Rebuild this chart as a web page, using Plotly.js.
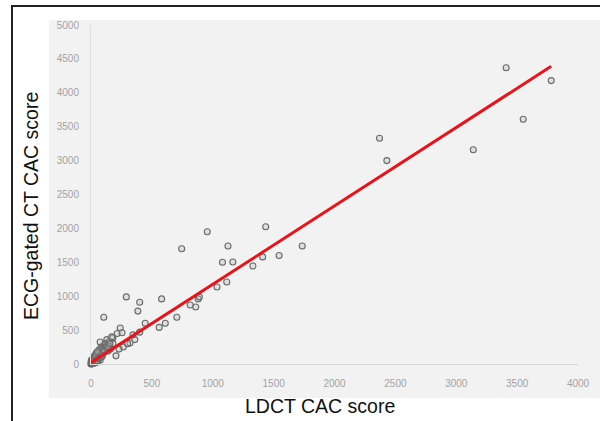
<!DOCTYPE html>
<html>
<head>
<meta charset="utf-8">
<script src="https://cdn.plot.ly/plotly-3.0.1.min.js"></script>
<style>
  html, body { margin: 0; padding: 0; background: #ffffff; }
  #wrap { position: relative; width: 600px; height: 421px; overflow: hidden; }
  #frame { position: absolute; left: 11px; top: 5px; width: 600px; height: 430px;
           border-top: 2px solid #222; border-left: 2px solid #222; }
  #panel { position: absolute; left: 49px; top: 20px; width: 551px; height: 378px; background: #f2f2f2; }
  #chart { position: absolute; left: 0; top: 0; width: 600px; height: 421px; }
</style>
</head>
<body>
<div id="wrap">
  <div id="frame"></div>
  <div id="panel"></div>
  <div id="chart"></div>
</div>
<script>
// LDCT CAC score (x) vs ECG-gated CT CAC score (y)
const ldct = [
  3410, 3780, 3550, 3140, 2370, 2430,
  1435, 955, 745, 1125, 1735, 1545, 1410, 1330, 1080, 1165, 1115, 1035, 880, 890, 815, 860,
  290, 400, 580, 385, 105, 445, 705, 610, 560, 240, 215, 255, 180, 130, 75, 400, 360, 320, 265, 205, 345, 300, 230,
  0, 2, 5, 8, 10, 12, 15, 18, 20, 22, 25, 28, 30, 33, 35, 38, 40, 42, 45, 48, 50, 52, 55, 58, 60,
  62, 65, 68, 70, 72, 75, 78, 80, 85, 88, 90, 95, 100, 105, 110, 115, 120, 130, 140, 150, 160, 170, 180,
  3, 6, 9, 14, 17, 24, 27, 32, 36, 44, 47, 54, 57, 64, 67, 74, 82, 92, 98, 108, 125, 135, 145, 155,
  1, 4, 11, 16, 21, 26, 31, 37, 43, 53, 63, 73, 83, 93
];
const ecg = [
  4370, 4180, 3610, 3160, 3330, 3000,
  2025, 1950, 1700, 1740, 1740, 1600, 1580, 1445, 1500, 1505, 1210, 1135, 960, 990, 870, 840,
  990, 910, 960, 780, 690, 600, 690, 600, 540, 530, 450, 460, 385, 360, 325, 470, 360, 310, 250, 120, 430, 300, 220,
  0, 5, 10, 3, 20, 15, 30, 12, 40, 25, 50, 35, 60, 20, 80, 45, 100, 70, 55, 120, 90, 30, 150, 110, 75,
  180, 130, 95, 200, 160, 60, 220, 140, 250, 190, 110, 230, 170, 270, 200, 300, 240, 280, 190, 330, 220, 400, 300,
  8, 2, 25, 40, 10, 65, 15, 85, 35, 60, 140, 45, 170, 80, 210, 125, 165, 150, 210, 180, 250, 230, 260, 300,
  40, 60, 70, 55, 95, 110, 125, 130, 160, 185, 90, 100, 105, 130
];
// regression line end points
const fitX = [0, 3780];
const fitY = [20, 4390];

const xTicks = [0, 500, 1000, 1500, 2000, 2500, 3000, 3500, 4000];
const yTicks = [0, 500, 1000, 1500, 2000, 2500, 3000, 3500, 4000, 4500, 5000];

const traces = [
  {
    type: 'scatter', mode: 'markers', x: ldct, y: ecg, cliponaxis: false,
    marker: { symbol: 'circle', size: 6, color: 'rgba(190,190,190,0.35)', line: { width: 1.1, color: '#6a6a6a' } },
    hoverinfo: 'x+y', showlegend: false
  },
  {
    type: 'scatter', mode: 'lines', x: fitX, y: fitY, cliponaxis: false,
    line: { color: '#e3161e', width: 3 }, showlegend: false
  }
];

const tickFont = { family: 'Liberation Sans, Arial, sans-serif', size: 10, color: '#a3a3a3' };
const layout = {
  width: 600, height: 421,
  margin: { l: 91, r: 22, t: 25, b: 57 },
  paper_bgcolor: 'rgba(0,0,0,0)', plot_bgcolor: 'rgba(0,0,0,0)',
  showlegend: false,
  xaxis: {
    range: [0, 4000], tickvals: xTicks, ticktext: xTicks.map(String),
    showgrid: false, zeroline: false, showline: true, linecolor: '#d6d6d6', linewidth: 1,
    ticks: '', ticklabelstandoff: 10, tickfont: tickFont, fixedrange: true
  },
  yaxis: {
    range: [0, 5000], tickvals: yTicks, ticktext: yTicks.map(String),
    showgrid: false, zeroline: false, showline: true, linecolor: '#e0e0e0', linewidth: 1,
    ticks: '', ticklabelstandoff: 9, tickfont: tickFont, fixedrange: true
  },
  annotations: [
    { text: 'LDCT CAC score', xref: 'paper', yref: 'paper', x: (319.5 - 91) / 487, y: (364 - 406) / 339,
      xanchor: 'center', yanchor: 'middle', showarrow: false,
      font: { family: 'Liberation Sans, Arial, sans-serif', size: 19.5, color: '#111' } },
    { text: 'ECG-gated CT CAC score', xref: 'paper', yref: 'paper', x: (31 - 91) / 487, y: (364 - 206) / 339,
      xanchor: 'center', yanchor: 'middle', textangle: -90, showarrow: false,
      font: { family: 'Liberation Sans, Arial, sans-serif', size: 19.5, color: '#111' } }
  ]
};

Plotly.newPlot('chart', traces, layout, { displayModeBar: false, staticPlot: true });
</script>
</body>
</html>
